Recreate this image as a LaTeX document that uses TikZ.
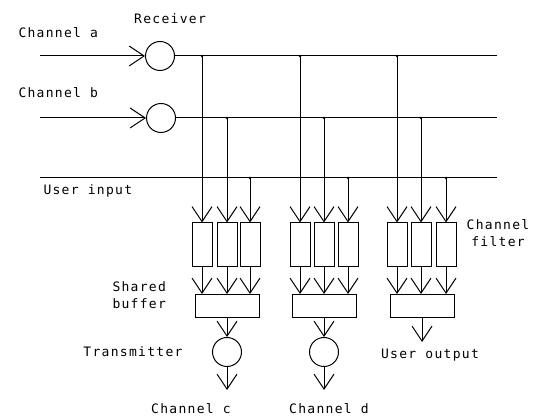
\documentclass[tikz,border=0pt]{standalone}
\usepackage{fontspec}
\newfontfamily\plotfont[LetterSpace=10]{DejaVu Sans Mono}
\newcommand{\lblfont}{\plotfont\fontsize{13}{17}\selectfont}
\usetikzlibrary{arrows.meta, positioning}
\tikzset{
  sig/.style={-{Straight Barb[length=15pt, width=20pt]}},
  filterbox/.style={draw, minimum width=20pt, minimum height=44pt, inner sep=0pt},
  bufferbox/.style={draw, minimum width=64pt, minimum height=23pt, inner sep=0pt},
  unitcirc/.style={draw, circle, minimum size=29pt, inner sep=0pt},
  lbl/.style={font=\lblfont, inner sep=0pt},
}

\begin{document}
\begin{tikzpicture}[x=1pt, y=-1pt, line width=1pt]
  \useasboundingbox (0,0) rectangle (541,419);
  %--- receivers and busses --------------------------------------------------
  \coordinate (ina) at (40,56);
  \coordinate (inb) at (40,118);
  \coordinate (enda) at (497,56);
  \coordinate (endb) at (497,118);
  \coordinate (uin) at (40,178);
  \coordinate (endu) at (497,178);
  \node[unitcirc] (rxa) at (160,56) {};
  \node[unitcirc] (rxb) at (161,118) {};
  \draw[sig] (ina) -- (rxa);
  \draw[sig] (inb) -- (rxb);
  \draw (rxa) -- (enda);
  \draw (rxb) -- (endb);
  \draw (uin) -- (endu);
  %--- channel filters and shared buffers ------------------------------------
  \foreach \g/\xa/\xb/\xc/\xm in {1/202/227/250/227, 2/300/324/348/324,
                                  3/397/421/446/422} {
    \coordinate (t\g a) at (\xa,56);
    \coordinate (t\g b) at (\xb,118);
    \coordinate (t\g c) at (\xc,178);
    \node[filterbox] (f\g a) at (\xa,245) {};
    \node[filterbox] (f\g b) at (\xb,245) {};
    \node[filterbox] (f\g c) at (\xc,245) {};
    \node[bufferbox] (buf\g) at (\xm,306) {};
    \foreach \k in {a,b,c} {
      \fill (t\g\k) circle (1.3pt);
      \draw[sig] (t\g\k) -- (f\g\k);
      \draw[sig] (f\g\k) -- (f\g\k |- buf\g.north);
    }
  }
  %--- transmitters and outputs ----------------------------------------------
  \node[unitcirc] (tx1) at (227,352) {};
  \node[unitcirc] (tx2) at (324,352) {};
  \coordinate (outc) at (227,390);
  \coordinate (outd) at (324,390);
  \coordinate (uout) at (422,342);
  \draw[sig] (buf1) -- (tx1);
  \draw[sig] (buf2) -- (tx2);
  \draw[sig] (tx1) -- (outc);
  \draw[sig] (tx2) -- (outd);
  \draw[sig] (buf3) -- (uout);
  %--- labels ----------------------------------------------------------------
  \node[lbl] (lblrx) at (170,19) {Receiver};
  \node[lbl, anchor=west] (lbla) at (18,33) {Channel a};
  \node[lbl, anchor=west] (lblb) at (18,93) {Channel b};
  \node[lbl, anchor=west] (lblu) at (43,191) {User input};
  \node[lbl, align=left, anchor=west] (lblbuf) at (112,295) {Shared\\buffer};
  \node[lbl] (lbltx) at (133,352) {Transmitter};
  \node[lbl, align=center] (lblfilt) at (498,233) {Channel\\filter};
  \node[lbl] (lbluo) at (430,355) {User output};
  \node[lbl] (lblc) at (191,409) {Channel c};
  \node[lbl] (lbld) at (329,409) {Channel d};
\end{tikzpicture}
\end{document}
